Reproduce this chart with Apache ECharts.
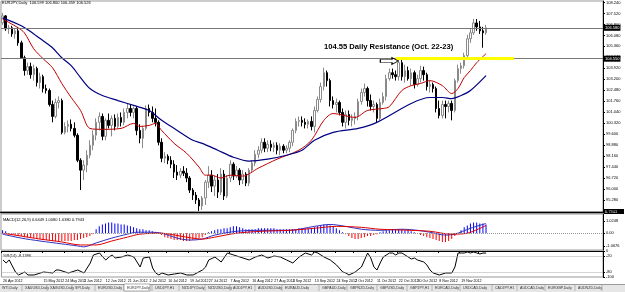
<!DOCTYPE html>
<html><head><meta charset="utf-8">
<script src="https://cdn.jsdelivr.net/npm/echarts@6/dist/echarts.min.js"></script>
<style>html,body{margin:0;padding:0;background:#fff}#c{width:625px;height:292px}</style>
</head><body><div id="c"></div>
<script>
// ---------- DATA ----------
const opens = [106.90,107.36,106.51,106.58,106.18,106.38,105.59,104.61,103.77,104.03,
103.50,103.90,102.98,103.37,102.59,102.46,101.54,100.76,101.67,101.80,
99.71,100.10,100.24,99.97,99.52,97.88,97.23,97.56,98.21,98.86,
99.52,100.37,100.76,99.45,100.50,100.17,100.63,100.10,100.69,100.37,
101.02,101.28,101.02,101.28,99.84,99.32,99.97,101.28,101.02,100.63,
100.37,99.06,98.01,98.14,97.88,97.62,97.10,96.90,97.16,97.03,
96.71,95.92,95.59,95.27,94.88,95.40,96.44,96.90,96.18,96.58,
95.79,96.97,95.53,96.71,97.62,96.84,97.23,96.58,96.97,96.38,
97.23,97.69,98.27,98.54,99.06,98.67,98.93,98.73,98.86,98.54,
98.80,98.54,98.67,99.06,99.84,100.43,100.50,100.37,100.24,100.43,
100.10,101.15,101.87,102.72,103.63,103.11,101.80,101.54,101.67,101.02,
100.37,100.89,100.50,100.63,100.76,101.74,102.33,102.59,101.80,101.41,
101.54,100.63,101.67,102.07,103.24,103.63,103.50,103.37,104.29,103.37,
103.77,103.24,103.63,102.85,103.24,103.77,103.50,102.72,102.85,102.59,
101.28,100.82,101.54,101.41,101.61,101.15,103.11,103.90,104.09,104.75,
105.86,106.25,106.90,106.64,106.38,106.25];
const closes = [107.36,106.51,106.58,106.18,106.38,105.59,104.61,103.77,104.03,103.50,
103.90,102.98,103.37,102.59,102.46,101.54,100.76,101.67,101.80,99.71,
100.10,100.24,99.97,99.52,97.88,97.23,97.56,98.21,98.86,99.52,
100.37,100.76,99.45,100.50,100.17,100.63,100.10,100.69,100.37,101.02,
101.28,101.02,101.28,99.84,99.32,99.97,101.28,101.02,100.63,100.37,
99.06,98.01,98.14,97.88,97.62,97.10,96.90,97.16,97.03,96.71,
95.92,95.59,95.27,94.88,95.40,96.44,96.90,96.18,96.58,95.79,
96.97,95.53,96.71,97.62,96.84,97.23,96.58,96.97,96.38,97.23,
97.69,98.27,98.54,99.06,98.67,98.93,98.73,98.86,98.54,98.80,
98.54,98.67,99.06,99.84,100.43,100.50,100.37,100.24,100.43,100.10,
101.15,101.87,102.72,103.63,103.11,101.80,101.54,101.67,101.02,100.37,
100.89,100.50,100.63,100.76,101.74,102.33,102.59,101.80,101.41,101.54,
100.63,101.67,102.07,103.24,103.63,103.50,103.37,104.29,103.37,103.77,
103.24,103.63,102.85,103.24,103.77,103.50,102.72,102.85,102.59,101.28,
100.82,101.54,101.41,101.61,101.15,103.11,103.90,104.09,104.75,105.86,
106.25,106.90,106.64,106.38,106.25,106.58];
const lows = [106.77,106.38,106.18,105.99,105.86,105.40,104.55,103.44,103.50,103.24,
103.11,102.72,102.59,102.33,102.26,101.41,100.37,100.63,101.28,99.58,
99.58,99.71,99.78,99.38,97.75,95.92,96.58,97.10,98.01,98.54,
99.19,99.84,99.19,99.19,99.97,99.45,99.84,99.97,100.10,100.17,
100.63,100.76,100.63,99.52,98.99,98.67,99.84,100.76,100.37,100.10,
98.86,97.75,97.69,97.62,97.36,96.71,96.58,96.71,96.84,96.44,
95.73,95.27,95.01,94.55,94.61,94.94,96.05,95.79,95.53,95.40,
95.59,95.27,95.40,96.44,96.58,96.71,96.25,96.31,96.18,96.18,
97.10,97.49,98.01,98.34,98.41,98.41,98.47,98.41,98.27,98.21,
98.34,98.34,98.41,98.80,99.65,100.10,100.10,99.97,99.97,99.84,
99.71,101.02,101.67,102.46,102.72,101.41,101.28,101.02,100.82,100.10,
99.97,100.17,100.10,100.24,100.50,101.54,102.07,101.41,101.15,101.02,
100.37,100.50,101.54,101.80,103.11,103.24,103.11,103.11,103.11,102.98,
103.11,102.78,102.59,102.72,102.98,103.11,102.46,102.33,102.33,101.02,
100.63,100.63,100.63,101.02,100.50,101.02,102.98,103.57,103.90,104.61,
105.59,106.12,106.38,106.18,105.27,106.12];
const highs = [107.56,107.42,106.77,106.71,106.51,106.64,105.73,104.75,104.29,104.29,
104.16,104.03,103.63,103.50,102.85,102.59,101.80,101.93,102.07,101.93,
100.37,100.50,100.56,100.37,99.65,98.01,97.88,98.54,99.19,99.84,
100.63,101.02,100.95,100.63,100.95,100.82,100.89,100.95,101.02,101.28,
101.61,101.54,101.41,101.41,100.24,100.10,101.48,101.54,101.41,101.28,
100.50,99.32,98.41,98.27,98.14,97.88,97.56,97.36,97.49,97.36,
96.84,96.05,95.79,95.40,95.53,96.58,97.49,97.23,96.84,96.97,
97.36,97.23,96.90,97.88,97.75,97.49,97.36,97.23,97.10,97.36,
97.88,98.54,98.80,99.32,99.32,99.19,99.19,99.06,99.06,98.99,
98.93,98.86,99.19,99.97,100.63,100.76,100.76,100.63,100.56,100.76,
101.41,102.07,102.98,103.96,103.77,103.24,102.07,101.93,101.80,101.28,
101.15,101.15,100.89,101.02,101.93,102.59,102.92,102.72,102.20,101.80,
101.67,101.93,102.33,103.50,103.90,103.90,103.77,104.61,104.61,104.16,
104.03,103.90,103.77,103.50,104.09,104.03,103.63,103.11,102.98,102.72,
101.80,101.80,101.80,101.80,101.80,103.24,104.16,104.29,104.94,106.12,
106.51,107.16,107.16,107.03,106.64,106.77];
// moving averages: [bar index, value]
const maRed = [[0,107.16],[5,106.58],[7,106.25],[10,105.2],[13,104.55],[16,103.96],[19,102.92],[22,102.00],[25,101.15],[28,99.97],[32,99.91],[38,99.97],[42,100.30],[44,100.10],[47,100.17],[49,100.30],[51,99.84],[55,98.99],[59,98.34],[63,97.43],[65,96.90],[67,96.90],[70,96.71],[73,96.90],[77,96.84],[82,97.36],[88,97.95],[95,98.54],[99,99.19],[103,100.50],[106,100.95],[113,100.69],[117,101.15],[122,101.28],[124,101.40],[128,102.46],[131,102.78],[134,102.92],[137,103.11],[141,102.78],[144,102.26],[146,102.59],[148,103.31],[150,103.77],[152,104.29],[155,104.88]];
const maBlue = [[0,107.23],[6,106.71],[10,106.18],[13,105.73],[16,105.27],[19,104.61],[22,104.09],[25,103.31],[28,102.59],[32,102.13],[37,101.80],[42,101.48],[47,101.15],[51,100.50],[56,99.84],[61,99.19],[64,98.99],[69,98.54],[74,98.08],[79,97.82],[85,97.95],[91,98.21],[96,98.54],[100,99.19],[106,99.71],[114,99.97],[120,100.37],[131,101.61],[137,102.00],[141,102.00],[144,101.93],[147,102.13],[150,102.46],[155,103.44]];
const macdHist = [0.24,0.16,-0.08,-0.16,-0.16,-0.24,-0.24,-0.33,-0.33,-0.41,-0.41,
-0.49,-0.49,-0.57,-0.57,-0.57,-0.65,-0.65,-0.65,-0.65,-0.65,
-0.65,-0.65,-0.57,-0.57,-0.49,
-0.41,-0.33,-0.24,-0.08,
0.33,0.57,0.73,0.81,0.89,0.89,0.81,0.81,0.73,0.73,0.65,0.57,
0.49,0.41,0.33,0.33,0.24,0.24,0.16,0.08,0,
-0.16,-0.33,-0.41,-0.49,-0.57,-0.57,-0.57,-0.65,-0.65,-0.65,-0.57,-0.49,-0.41,-0.33,-0.16,
0.08,0.16,0.24,0.33,0.33,0.41,0.41,
0.49,0.57,0.57,0.49,0.41,
0.33,0.33,0.33,0.33,0.41,0.41,0.41,
0.41,0.41,0.41,0.33,0.33,0.33,0.33,0.33,
0.33,0.33,0.41,0.41,0.41,0.41,0.41,
0.49,0.57,0.65,0.73,0.73,0.65,0.57,0.41,
0.24,0.08,-0.08,
-0.24,-0.41,-0.49,-0.49,-0.41,-0.33,-0.24,-0.24,-0.16,-0.08,
0.08,0.16,0.24,0.24,0.33,0.33,0.33,0.33,0.24,0.24,
0.16,0.08,0,-0.16,-0.24,
-0.33,-0.41,-0.49,-0.57,-0.65,-0.73,-0.73,-0.65,-0.49,
-0.24,0,0.24,0.49,0.65,0.81,
0.89,0.89,0.81,0.81,0.73];
const macdMain = [[0,-0.08],[6,-0.41],[12,-0.65],[19,-0.89],[24,-1.06],[26,-1.14],[30,-0.81],[35,-0.41],[40,-0.08],[43,0.08],[48,0.08],[51,0],[56,-0.41],[60,-0.57],[64,-0.49],[68,-0.16],[75,0.16],[83,0.24],[92,0.24],[100,0.57],[105,0.73],[110,0.57],[115,0.33],[121,0.24],[128,0.33],[133,0.24],[137,0.08],[142,-0.16],[145,-0.08],[150,0.41],[155,0.81]];
const macdSignal = [[0,0],[6,-0.24],[12,-0.49],[19,-0.73],[25,-0.98],[30,-0.98],[35,-0.65],[40,-0.33],[44,-0.08],[51,0],[57,-0.24],[64,-0.49],[68,-0.33],[75,0],[83,0.16],[92,0.24],[100,0.41],[107,0.57],[115,0.49],[121,0.33],[131,0.24],[137,0.16],[144,-0.08],[149,0],[155,0.65]];
const wpr = [[0,-34.6],[1,-46.2],[2,-34.6],[4,-80.8],[5,-92.3],[7,-80.8],[8,-92.3],[10,-92.3],[13,-80.8],[16,-84.6],[17,-73.1],[18,-73.1],[20,-80.8],[21,-84.6],[24,-73.1],[26,-84.6],[27,-65.4],[28,-46.2],[29,-15.4],[31,-7.7],[32,-23.1],[33,-34.6],[34,-23.1],[35,-15.4],[36,-26.9],[38,-23.1],[40,-15.4],[42,-23.1],[43,-42.3],[44,-61.5],[45,-26.9],[47,-23.1],[48,-65.4],[49,-84.6],[50,-92.3],[51,-84.6],[53,-92.3],[55,-88.5],[57,-84.6],[59,-92.3],[61,-92.3],[64,-73.1],[65,-61.5],[66,-34.6],[68,-23.1],[70,-42.3],[72,-7.7],[74,-15.4],[76,-23.1],[79,-34.6],[81,-23.1],[83,-15.4],[85,-26.9],[87,-19.2],[89,-23.1],[91,-34.6],[93,-46.2],[95,-23.1],[97,-7.7],[99,-15.4],[100,-3.8],[101,-7.7],[103,-23.1],[105,-34.6],[107,-53.8],[109,-80.8],[110,-84.6],[111,-92.3],[113,-80.8],[115,-61.5],[116,-34.6],[117,-7.7],[118,-26.9],[119,-61.5],[120,-73.1],[121,-46.2],[122,-23.1],[124,-7.7],[125,-7.7],[126,-15.4],[127,-7.7],[128,-7.7],[129,-15.4],[130,-23.1],[131,-30.8],[132,-26.9],[133,-34.6],[135,-42.3],[136,-53.8],[137,-73.1],[138,-84.6],[140,-92.3],[142,-84.6],[144,-84.6],[145,-61.5],[146,-7.7],[147,-7.7],[148,-7.7],[149,-3.8],[150,-7.7],[151,-3.8],[152,-7.7],[153,-11.5],[154,-7.7],[155,-8.1]];
const priceTicks = [108.24,107.52,106.80,106.08,105.36,104.64,103.92,103.20,102.48,101.76,101.04,100.32,99.60,98.88,98.16,97.44,96.72,96.00,95.28,94.56];
const macdTicks = [1.0248,0,-1.0676];
const wprTicks = [0,-20,-80,-100];
const dateLabels = ["26 Apr 2012","4 May 2012","15 May 2012","24 May 2012","1 Jun 2012","12 Jun 2012","21 Jun 2012","2 Jul 2012","10 Jul 2012","19 Jul 2012","27 Jul 2012","7 Aug 2012","16 Aug 2012","27 Aug 2012","4 Sep 2012","13 Sep 2012","24 Sep 2012","2 Oct 2012","11 Oct 2012","22 Oct 2012","30 Oct 2012","8 Nov 2012","19 Nov 2012","27 Nov 2012"];
const resistance = 104.55;
const lastPrice = 106.58;
const tabs = ["WTI,Daily","XAUUSD,Daily","XAGUSD,Daily","SPI,Daily","EURUSD,Daily","EURJPY,Daily","USDJPY,H1","NZDJPY,Daily","NZDUSD,Daily","AUDJPY,H1","AUDUSD,Daily","EURAUD,Daily","GBPAUD,Daily","GBPNZD,Daily","GBPUSD,Daily","GBPJPY,H1","EURCAD,Daily","USDCAD,Daily","CADJPY,H1","AUDCAD,Daily","EURGBP,Daily","AUDNZD,Daily"];
const activeTab = "EURJPY,Daily";

// ---------- categories (trading days) ----------
const months=['Jan','Feb','Mar','Apr','May','Jun','Jul','Aug','Sep','Oct','Nov','Dec'];
const dates=[]; let d=new Date(Date.UTC(2012,3,26));
while(dates.length<closes.length){const wd=d.getUTCDay(); if(wd!==0&&wd!==6) dates.push(d.getUTCDate()+' '+months[d.getUTCMonth()]+' '+d.getUTCFullYear()); d=new Date(d.getTime()+86400000);}
const cats = dates.concat(Array.from({length:37},(_,k)=>'~'+k));
const labelSet = new Set(dateLabels);
const labelFn = (i,v)=>labelSet.has(v);
const candles = closes.map((c,i)=>[opens[i],c,lows[i],highs[i]]);

// ---------- layout ----------
const F = 'Liberation Sans, Arial, sans-serif';
const tabX = [2,25,50,75,98,127,155,182,208,233,258,285,322,350,380,410,435,463,495,520,548,578];

const chart = echarts.init(document.getElementById('c'));
const graphics = [
  {type:'text', left:2, top:1, style:{text:'EURJPY,Daily  106.599 106.800 106.459 106.526', fontSize:4, fontFamily:F, fill:'#000'}},
  {type:'text', left:3, top:218, style:{text:'MACD(12,26,9) 0.6449 1.0080 1.0380 0.7943', fontSize:4, fontFamily:F, fill:'#000'}},
  {type:'text', left:3, top:254, style:{text:'%R(14) -8.1396', fontSize:4, fontFamily:F, fill:'#000'}},
  {type:'text', left:324, top:42.5, style:{text:'104.55 Daily Resistance (Oct. 22-23)', fontSize:7.6, fontWeight:'bold', fontFamily:F, fill:'#000'}},
  {type:'line', shape:{x1:0,y1:212.5,x2:604,y2:212.5}, style:{stroke:'#000', lineWidth:1.5}},
  {type:'rect', shape:{x:604,y:209,width:20,height:5}, style:{fill:'#000'}},
  {type:'text', left:605, top:209.5, style:{text:'0.7943', fontSize:4, fontFamily:F, fill:'#fff'}},
  {type:'rect', shape:{x:0,y:284,width:625,height:8}, style:{fill:'#e6e6e6'}},
  {type:'line', shape:{x1:0,y1:284.5,x2:625,y2:284.5}, style:{stroke:'#999', lineWidth:1}}
];
tabs.forEach((t,k)=>{
  const x = tabX[k];
  if(t===activeTab){
    graphics.push({type:'rect', shape:{x:x-3,y:284,width:26,height:7}, style:{fill:'#fff', stroke:'#777', lineWidth:0.6}});
  }
  graphics.push({type:'text', left:x, top:286, style:{text:t, fontSize:3.6, fontFamily:F, fill:'#333'}});
  const nx = k<tabs.length-1 ? tabX[k+1]-3 : 602;
  graphics.push({type:'line', shape:{x1:nx,y1:285,x2:nx,y2:291}, style:{stroke:'#999', lineWidth:0.6}});
});

const xAx = g => ({type:'category', gridIndex:g, data:cats, boundaryGap:true,
  axisLine:{show:g===2, lineStyle:{color:'#000', width:1}},
  axisTick:{show:g===2, interval:labelFn, length:2, lineStyle:{color:'#000'}},
  axisLabel:{show:g===2, interval:labelFn, showMinLabel:true, hideOverlap:false, fontSize:3.6, align:'left', margin:2, color:'#000', fontFamily:F},
  splitLine:{show:false}});

const option = {
  animation:false,
  backgroundColor:'#fff',
  graphic:graphics,
  grid:[
    {left:1, right:22, top:1, height:211, show:true, borderColor:'#999', borderWidth:1},
    {left:1, right:22, top:214, height:36, show:true, borderColor:'#999', borderWidth:1},
    {left:1, right:22, top:251, height:26, show:true, borderColor:'#999', borderWidth:1}
  ],
  xAxis:[xAx(0),xAx(1),xAx(2)],
  yAxis:[
    {type:'value', gridIndex:0, position:'right', min:94.48, max:108.34,
      axisLine:{show:true, lineStyle:{color:'#000'}},
      axisTick:{show:true, length:2, customValues:priceTicks, lineStyle:{color:'#000'}},
      axisLabel:{customValues:priceTicks, fontSize:4, margin:3, color:'#000', fontFamily:F, formatter:v=>v.toFixed(3)},
      splitLine:{show:false}},
    {type:'value', gridIndex:1, position:'right', min:-1.4, max:1.6,
      axisLine:{show:true, lineStyle:{color:'#000'}},
      axisTick:{show:true, length:2, customValues:macdTicks, lineStyle:{color:'#000'}},
      axisLabel:{customValues:macdTicks, fontSize:4, margin:3, color:'#000', fontFamily:F, formatter:v=>v===0?'0.00':v.toFixed(4)},
      splitLine:{show:false}},
    {type:'value', gridIndex:2, position:'right', min:-100, max:0,
      axisLine:{show:true, lineStyle:{color:'#000'}},
      axisTick:{show:true, length:2, customValues:wprTicks, lineStyle:{color:'#000'}},
      axisLabel:{customValues:wprTicks, fontSize:4, margin:3, color:'#000', fontFamily:F, formatter:v=>String(v)},
      splitLine:{show:false}}
  ],
  series:[
    {type:'candlestick', xAxisIndex:0, yAxisIndex:0, data:candles, barWidth:2,
      itemStyle:{color:'#ffffff', color0:'#000000', borderColor:'#8a8a8a', borderColor0:'#000000', borderWidth:1},
      markLine:{silent:true, symbol:'none', animation:false,
        data:[
          {yAxis:resistance, lineStyle:{color:'#777', width:1, type:'solid'},
            label:{show:true, position:'end', distance:1, formatter:resistance.toFixed(3), backgroundColor:'#000', color:'#fff', fontSize:4, padding:[1,1], fontFamily:F}},
          {yAxis:lastPrice, lineStyle:{color:'#777', width:1, type:'solid'},
            label:{show:true, position:'end', distance:1, formatter:lastPrice.toFixed(3), backgroundColor:'#000', color:'#fff', fontSize:4, padding:[1,1], fontFamily:F}},
          [{coord:[cats[126],resistance], lineStyle:{color:'#ffff00', width:3, type:'solid'}, label:{show:false}},{coord:[cats[164],resistance]}]
        ]},
      markPoint:{silent:true, animation:false, label:{show:false},
        data:[{coord:[cats[124],104.40], symbol:'path://M0,3L11,3L11,0L17,5L11,10L11,7L0,7Z', symbolSize:[18,7], symbolKeepAspect:false,
          itemStyle:{color:'#fff', borderColor:'#000', borderWidth:0.8}}]}
    },
    {type:'line', xAxisIndex:0, yAxisIndex:0, data:maRed, symbol:'none', smooth:0.3, lineStyle:{color:'#c00000', width:1}, z:3},
    {type:'line', xAxisIndex:0, yAxisIndex:0, data:maBlue, symbol:'none', smooth:0.3, lineStyle:{color:'#000080', width:1.2}, z:3},
    {type:'bar', xAxisIndex:1, yAxisIndex:1, data:macdHist, barWidth:1,
      itemStyle:{color:p=>p.value>=0?'#0000ff':'#ff0000'},
      markLine:{silent:true, symbol:'none', data:[{yAxis:0}], lineStyle:{color:'#999', type:'dotted', width:1}, label:{show:false}}},
    {type:'line', xAxisIndex:1, yAxisIndex:1, data:macdMain, symbol:'none', smooth:0.3, lineStyle:{color:'#3030c0', width:1}},
    {type:'line', xAxisIndex:1, yAxisIndex:1, data:macdSignal, symbol:'none', smooth:0.3, lineStyle:{color:'#e00000', width:1}},
    {type:'line', xAxisIndex:2, yAxisIndex:2, data:wpr, symbol:'none', lineStyle:{color:'#000', width:1},
      markLine:{silent:true, symbol:'none', data:[{yAxis:-20},{yAxis:-80}], lineStyle:{color:'#aaa', type:'dotted', width:1}, label:{show:false}}}
  ]
};
chart.setOption(option);
</script>
</body></html>
